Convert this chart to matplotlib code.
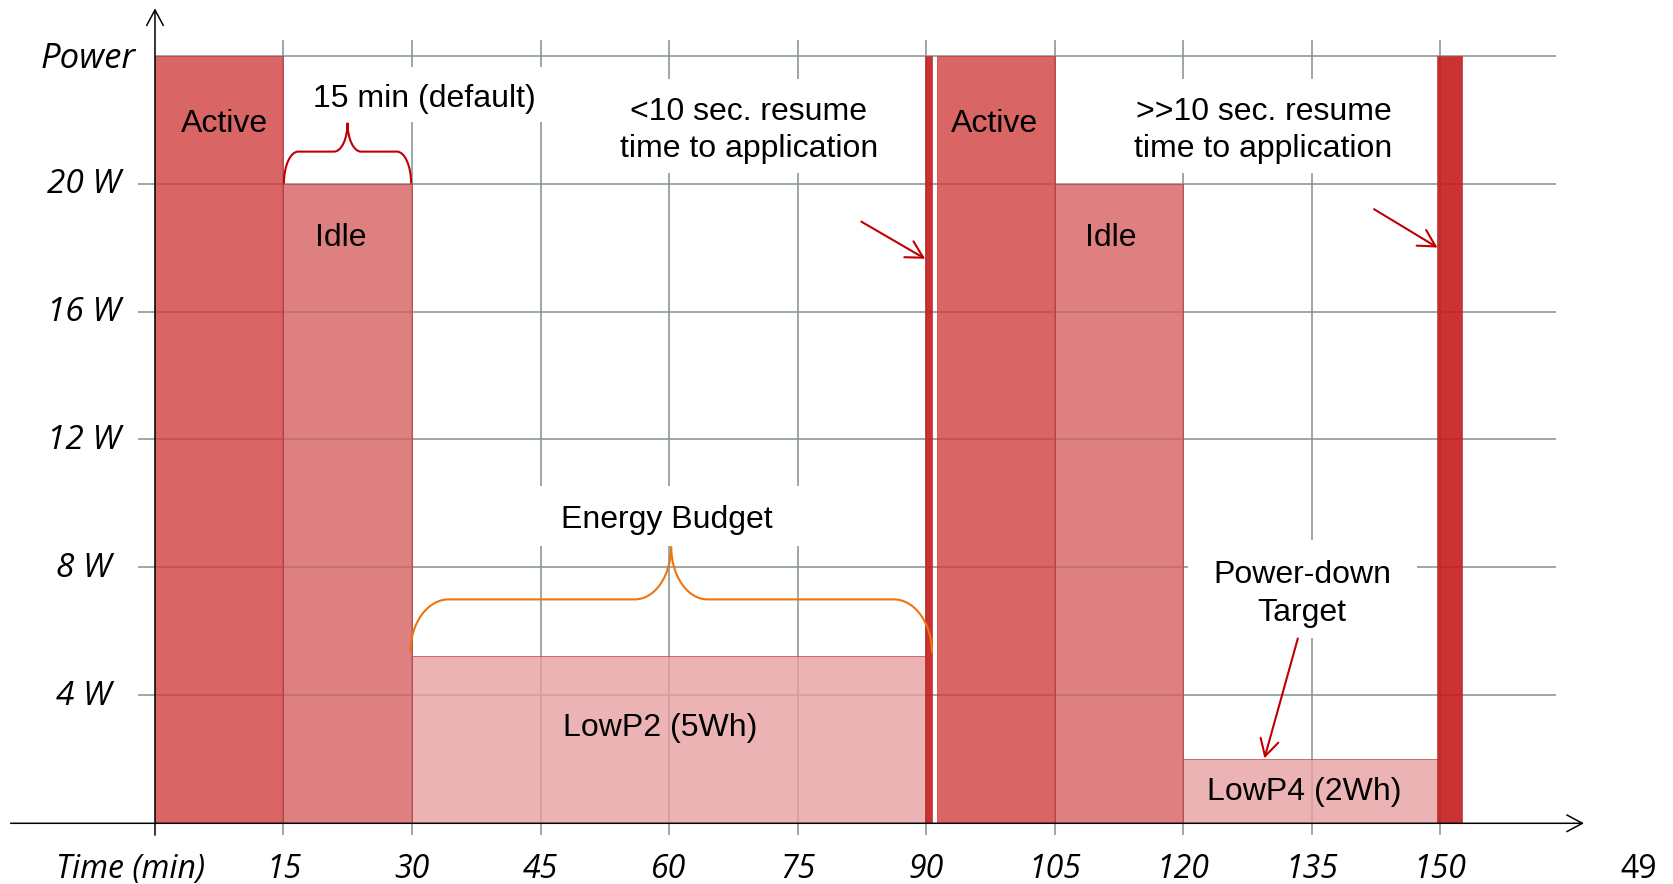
import matplotlib
matplotlib.use("Agg")
import matplotlib.pyplot as plt
from matplotlib.patches import Rectangle, PathPatch, FancyArrowPatch
from matplotlib.path import Path

# ---------------- data ----------------
state_names = ["Active", "Idle", "LowP2", "Resume", "Active", "Idle", "LowP4", "Resume"]
t_start = [0, 15, 30, 89.9, 91.3, 105, 120, 149.7]
t_end = [15, 30, 89.9, 90.7, 105, 120, 149.7, 152.6]
power_w = [24, 20, 5.24, 24, 24, 20, 2, 24]

x_ticks = [15, 30, 45, 60, 75, 90, 105, 120, 135, 150]
x_tick_labels = ["15", "30", "45", "60", "75", "90", "105", "120", "135", "150"]
y_ticks = [4, 8, 12, 16, 20]
y_tick_labels = ["4 W", "8 W", "12 W", "16 W", "20 W"]
y_top = 24
y_top_label = "Power"
x_label = "Time (min)"
page_number = "49"

# ---------------- styles ----------------
colors = {"Active": "#D03F3F", "Idle": "#D66060", "LowP2": "#E6A0A0",
          "LowP4": "#E6A0A0", "Resume": "#C61C1C"}
alphas = {"Active": 0.8, "Idle": 0.8, "LowP2": 0.8, "LowP4": 0.8, "Resume": 0.9}
grid_c = "#849090"
dark_red = "#C00000"
orange = "#EE7410"
sans = "Liberation Sans"
ital = "Open Sans"

fig = plt.figure(figsize=(16.73, 8.84), dpi=100)
ax = fig.add_axes([0, 0, 1, 1])
ax.set_xlim(-18.09, 177.19)
ax.set_ylim(-1.898, 25.74)
ax.axis("off")

# grid
for xt in x_ticks:
    ax.plot([xt, xt], [-0.37, 24.49], color=grid_c, lw=1.1, zorder=1, solid_capstyle="butt")
for yt in y_ticks:
    ax.plot([-1.93, 163.5], [yt, yt], color=grid_c, lw=1.1, zorder=1, solid_capstyle="butt")
ax.plot([0, 163.5], [y_top, y_top], color=grid_c, lw=1.1, zorder=1, solid_capstyle="butt")

# white label boxes (cover grid)
boxes = [(16.9, 21.94, 47.0, 23.66), (52.0, 20.32, 87.0, 23.27), (112.0, 20.32, 147.0, 23.27),
         (42.0, 8.68, 78.0, 10.53), (120.6, 5.78, 147.3, 8.86)]
for x0, y0, x1, y1 in boxes:
    ax.add_patch(Rectangle((x0, y0), x1 - x0, y1 - y0, facecolor="white", edgecolor="none", zorder=2))

# bars
for name, s, e, p in zip(state_names, t_start, t_end, power_w):
    ax.bar(s, p, width=e - s, align="edge", color=colors[name], alpha=alphas[name],
           edgecolor="#B83A3A", linewidth=0.6, zorder=3)

# axes with arrows
ax.add_patch(FancyArrowPatch((-16.85, 0), (166.8, 0), arrowstyle="->,head_length=0.56,head_width=0.3",
                             mutation_scale=20, color="black", lw=1.1, zorder=4, shrinkA=0, shrinkB=0))
ax.add_patch(FancyArrowPatch((0, -0.37), (0, 25.48), arrowstyle="->,head_length=0.56,head_width=0.3",
                             mutation_scale=20, color="black", lw=1.1, zorder=4, shrinkA=0, shrinkB=0))


def brace(x0, x1, yb, ym, yp, rx, rc, color, lw):
    xc = (x0 + x1) / 2
    k = 0.552
    verts = [(x0, yb), (x0, yb + k * (ym - yb)), (x0 + (1 - k) * rx, ym), (x0 + rx, ym),
             (xc - rc, ym),
             (xc - (1 - k) * rc, ym), (xc, yp - k * (yp - ym)), (xc, yp),
             (xc, yp - k * (yp - ym)), (xc + (1 - k) * rc, ym), (xc + rc, ym),
             (x1 - rx, ym),
             (x1 - (1 - k) * rx, ym), (x1, yb + k * (ym - yb)), (x1, yb)]
    codes = [Path.MOVETO, Path.CURVE4, Path.CURVE4, Path.CURVE4, Path.LINETO,
             Path.CURVE4, Path.CURVE4, Path.CURVE4, Path.CURVE4, Path.CURVE4, Path.CURVE4,
             Path.LINETO, Path.CURVE4, Path.CURVE4, Path.CURVE4]
    ax.add_patch(PathPatch(Path(verts, codes), facecolor="none", edgecolor=color, lw=lw, zorder=4))


brace(15.05, 29.9, 20.0, 21.0, 21.9, 1.67, 1.58, dark_red, 1.5)
brace(29.8, 90.7, 5.33, 7.0, 8.65, 4.47, 4.24, orange, 1.5)

# pointing arrows
arrows = [((82.45, 18.81), (89.9, 17.65)), ((142.3, 19.2), (149.7, 18.0)), ((133.4, 5.78), (129.5, 2.03))]
for (sx, sy), (ex, ey) in arrows:
    ax.add_patch(FancyArrowPatch((sx, sy), (ex, ey), arrowstyle="->,head_length=0.6,head_width=0.33",
                                 mutation_scale=20, color=dark_red, lw=1.5, zorder=5, shrinkA=0, shrinkB=0))

# labels inside chart
fs = 23
txt = dict(family=sans, fontsize=fs, color="black", ha="center", va="center", zorder=6)
ax.text(8.06, 21.87, "Active", **txt)
ax.text(98.05, 21.87, "Active", **txt)
ax.text(21.67, 18.29, "Idle", **txt)
ax.text(111.6, 18.29, "Idle", **txt)
ax.text(31.4, 22.65, "15 min (default)", **txt)
ax.text(69.3, 21.66, "<10 sec. resume\ntime to application", linespacing=1.32, **txt)
ax.text(129.4, 21.66, ">>10 sec. resume\ntime to application", linespacing=1.32, **txt)
ax.text(59.8, 9.49, "Energy Budget", **txt)
ax.text(59.0, 2.99, "LowP2 (5Wh)", **txt)
ax.text(133.9, 7.17, "Power-down\nTarget", linespacing=1.32, **txt)
ax.text(134.1, 0.98, "LowP4 (2Wh)", **txt)

# axis tick labels
tk = dict(family=ital, style="italic", fontsize=23, color="black", va="center", zorder=6)
for xt, lab in zip(x_ticks, x_tick_labels):
    ax.text(xt, -1.43, lab, ha="center", **tk)
ax.text(-2.86, -1.43, x_label, ha="center", **tk)
for yt, lab in zip(y_ticks, y_tick_labels):
    ax.text(-8.3, yt - 0.03, lab, ha="center", **dict(tk, fontsize=24))
ax.text(-7.8, y_top - 0.12, y_top_label, ha="center", **dict(tk, fontsize=25))
ax.text(173.2, -1.43, page_number, family=ital, fontsize=23, ha="center", va="center")

fig.savefig("out.png", dpi=100)
